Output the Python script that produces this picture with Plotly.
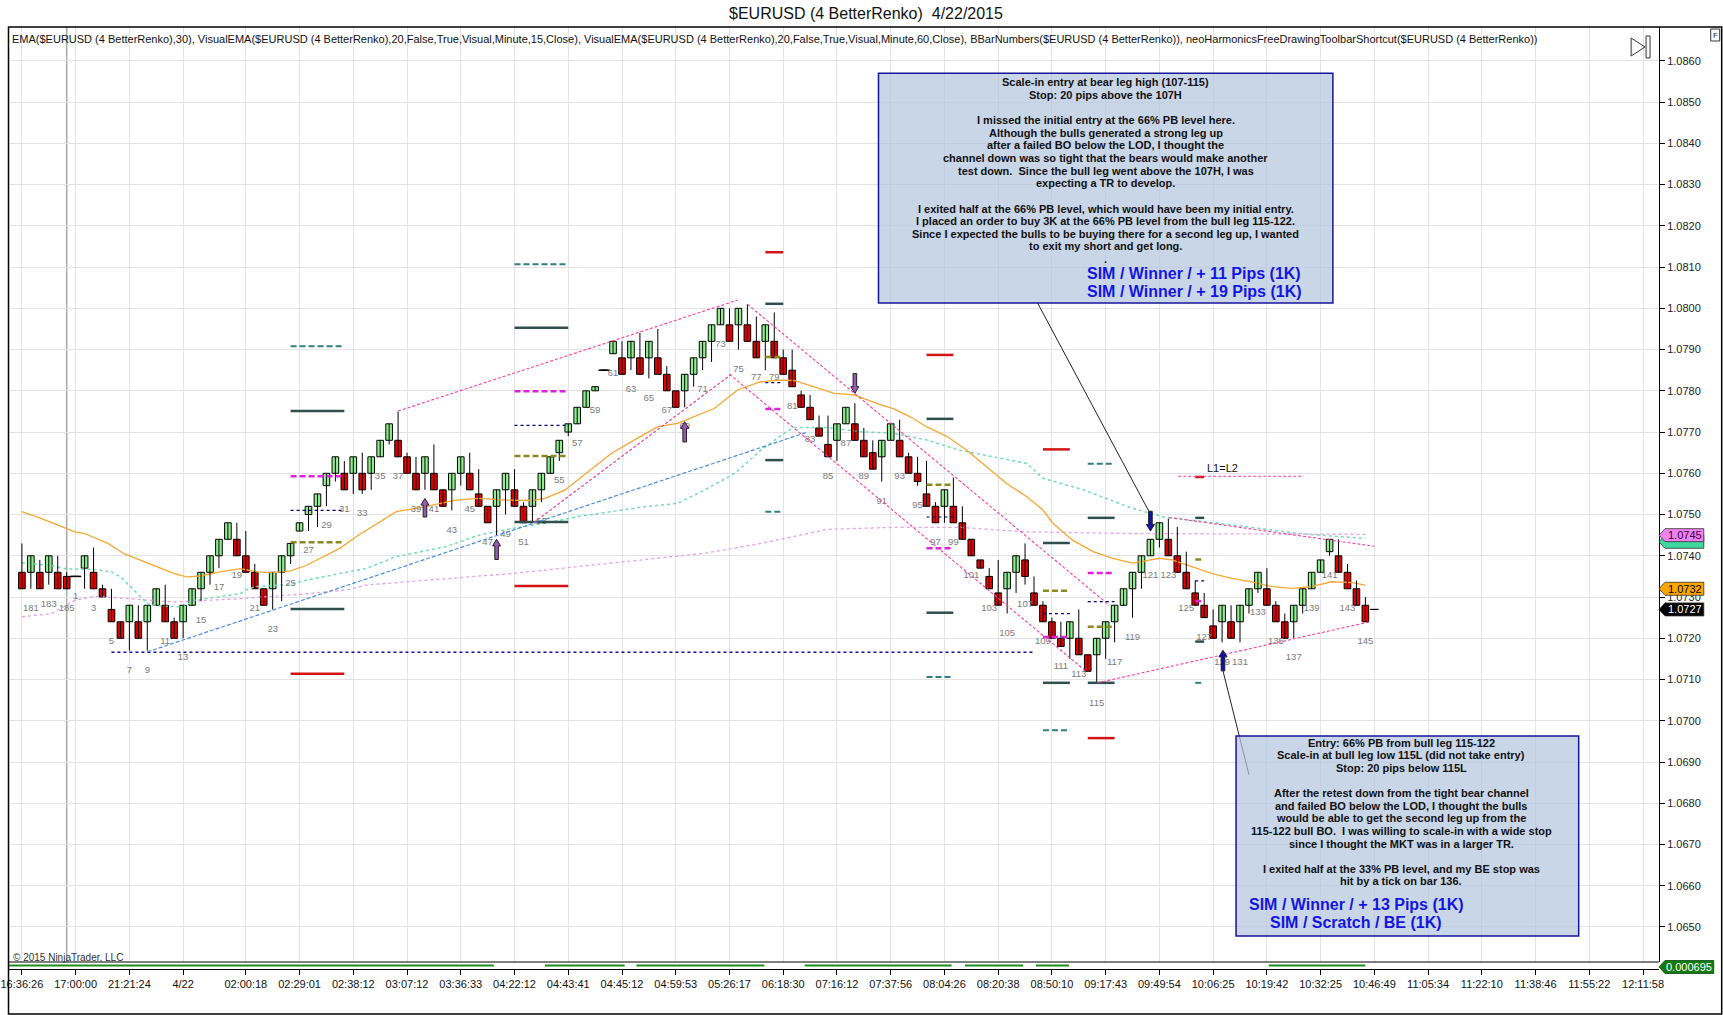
import plotly.graph_objects as go

# ---- renko bars, slot 0..150 (bars 180-185 of the prior session, then 1..145)
opens = [1.0736, 1.0736, 1.0736, 1.0736, 1.0736, 1.0735, 1.0735, 1.0737, 1.0736, 1.0732,
         1.0727, 1.0724, 1.0724, 1.0724, 1.0724, 1.0728, 1.0728, 1.0724, 1.0724, 1.0728,
         1.0732, 1.0736, 1.0740, 1.0744, 1.0744, 1.0740, 1.0736, 1.0732, 1.0732, 1.0736,
         1.0740, 1.0746, 1.0750, 1.0752, 1.0757, 1.0760, 1.0760, 1.0760, 1.0760, 1.0760,
         1.0764, 1.0768, 1.0768, 1.0764, 1.0760, 1.0760, 1.0760, 1.0756, 1.0756, 1.0760,
         1.0760, 1.0755, 1.0752, 1.0752, 1.0756, 1.0756, 1.0752, 1.0752, 1.0756, 1.0760,
         1.0765, 1.0770, 1.0772, 1.0776, 1.0780, 1.0785, 1.0789, 1.0788, 1.0788, 1.0788,
         1.0788, 1.0788, 1.0784, 1.0780, 1.0780, 1.0784, 1.0788, 1.0792, 1.0796, 1.0796,
         1.0796, 1.0796, 1.0792, 1.0792, 1.0792, 1.0788, 1.0785, 1.0779, 1.0776, 1.0771,
         1.0767, 1.0768, 1.0772, 1.0772, 1.0768, 1.0765, 1.0764, 1.0768, 1.0768, 1.0764,
         1.0760, 1.0755, 1.0752, 1.0752, 1.0752, 1.0748, 1.0744, 1.0739, 1.0735, 1.0731,
         1.0732, 1.0736, 1.0739, 1.0731, 1.0728, 1.0724, 1.0720, 1.0720, 1.0720, 1.0716,
         1.0716, 1.0720, 1.0724, 1.0728, 1.0732, 1.0736, 1.0740, 1.0744, 1.0744, 1.0740,
         1.0736, 1.0731, 1.0728, 1.0723, 1.0724, 1.0724, 1.0724, 1.0728, 1.0732, 1.0732,
         1.0728, 1.0724, 1.0724, 1.0728, 1.0732, 1.0736, 1.0741, 1.0740, 1.0736, 1.0732,
         1.0728]
highs = [1.0743, 1.0740, 1.0739, 1.0740, 1.0740, 1.0736, 1.0735, 1.0740, 1.0742, 1.0733,
         1.0732, 1.0724, 1.0728, 1.0728, 1.0728, 1.0732, 1.0733, 1.0725, 1.0728, 1.0732,
         1.0736, 1.0740, 1.0744, 1.0748, 1.0748, 1.0746, 1.0738, 1.0732, 1.0736, 1.0740,
         1.0743, 1.0748, 1.0752, 1.0755, 1.0760, 1.0764, 1.0763, 1.0764, 1.0765, 1.0764,
         1.0768, 1.0772, 1.0775, 1.0765, 1.0764, 1.0764, 1.0767, 1.0756, 1.0760, 1.0764,
         1.0765, 1.0761, 1.0752, 1.0756, 1.0760, 1.0761, 1.0753, 1.0756, 1.0760, 1.0764,
         1.0768, 1.0772, 1.0776, 1.0780, 1.0781, 1.0785, 1.0792, 1.0792, 1.0792, 1.0794,
         1.0792, 1.0795, 1.0786, 1.0780, 1.0784, 1.0788, 1.0792, 1.0796, 1.0800, 1.0800,
         1.0800, 1.0801, 1.0798, 1.0796, 1.0799, 1.0790, 1.0790, 1.0780, 1.0779, 1.0774,
         1.0774, 1.0772, 1.0776, 1.0777, 1.0771, 1.0768, 1.0768, 1.0772, 1.0773, 1.0765,
         1.0764, 1.0763, 1.0753, 1.0756, 1.0759, 1.0752, 1.0744, 1.0739, 1.0737, 1.0739,
         1.0736, 1.0740, 1.0743, 1.0735, 1.0729, 1.0725, 1.0724, 1.0724, 1.0727, 1.0716,
         1.0720, 1.0724, 1.0728, 1.0732, 1.0736, 1.0740, 1.0744, 1.0748, 1.0749, 1.0747,
         1.0741, 1.0734, 1.0731, 1.0727, 1.0728, 1.0728, 1.0728, 1.0732, 1.0736, 1.0737,
         1.0729, 1.0726, 1.0728, 1.0732, 1.0736, 1.0739, 1.0744, 1.0744, 1.0738, 1.0734,
         1.0730]
lows = [1.0732, 1.0732, 1.0732, 1.0733, 1.0732, 1.0732, 1.0735, 1.0732, 1.0732, 1.0730,
        1.0724, 1.0720, 1.0717, 1.0720, 1.0717, 1.0728, 1.0724, 1.0720, 1.0720, 1.0728,
        1.0729, 1.0733, 1.0737, 1.0744, 1.0740, 1.0736, 1.0732, 1.0728, 1.0727, 1.0729,
        1.0738, 1.0746, 1.0746, 1.0747, 1.0752, 1.0758, 1.0756, 1.0755, 1.0755, 1.0756,
        1.0764, 1.0767, 1.0764, 1.0760, 1.0756, 1.0756, 1.0756, 1.0752, 1.0751, 1.0757,
        1.0756, 1.0752, 1.0748, 1.0745, 1.0750, 1.0752, 1.0748, 1.0748, 1.0753, 1.0760,
        1.0763, 1.0769, 1.0772, 1.0776, 1.0780, 1.0785, 1.0789, 1.0784, 1.0785, 1.0784,
        1.0783, 1.0784, 1.0780, 1.0776, 1.0776, 1.0781, 1.0785, 1.0787, 1.0796, 1.0792,
        1.0790, 1.0792, 1.0788, 1.0785, 1.0788, 1.0784, 1.0781, 1.0776, 1.0773, 1.0769,
        1.0764, 1.0763, 1.0772, 1.0768, 1.0764, 1.0761, 1.0758, 1.0768, 1.0764, 1.0760,
        1.0757, 1.0752, 1.0748, 1.0748, 1.0748, 1.0744, 1.0740, 1.0737, 1.0732, 1.0728,
        1.0726, 1.0731, 1.0733, 1.0728, 1.0724, 1.0720, 1.0718, 1.0715, 1.0716, 1.0712,
        1.0709, 1.0715, 1.0719, 1.0728, 1.0725, 1.0732, 1.0740, 1.0742, 1.0740, 1.0736,
        1.0732, 1.0728, 1.0725, 1.0720, 1.0719, 1.0720, 1.0719, 1.0726, 1.0731, 1.0728,
        1.0724, 1.0720, 1.0720, 1.0726, 1.0732, 1.0736, 1.0740, 1.0736, 1.0732, 1.0728,
        1.0724]
closes = [1.0732, 1.0740, 1.0732, 1.0740, 1.0732, 1.0732, 1.0735, 1.0740, 1.0732, 1.0730,
          1.0724, 1.0720, 1.0728, 1.0720, 1.0728, 1.0732, 1.0724, 1.0720, 1.0728, 1.0732,
          1.0736, 1.0740, 1.0744, 1.0748, 1.0740, 1.0736, 1.0732, 1.0728, 1.0736, 1.0740,
          1.0743, 1.0748, 1.0752, 1.0755, 1.0760, 1.0764, 1.0756, 1.0764, 1.0756, 1.0764,
          1.0768, 1.0772, 1.0764, 1.0760, 1.0756, 1.0764, 1.0756, 1.0752, 1.0760, 1.0764,
          1.0756, 1.0752, 1.0748, 1.0756, 1.0760, 1.0752, 1.0748, 1.0756, 1.0760, 1.0764,
          1.0768, 1.0772, 1.0776, 1.0780, 1.0781, 1.0785, 1.0792, 1.0784, 1.0792, 1.0784,
          1.0792, 1.0784, 1.0780, 1.0776, 1.0784, 1.0788, 1.0792, 1.0796, 1.0800, 1.0792,
          1.0800, 1.0792, 1.0788, 1.0796, 1.0788, 1.0784, 1.0781, 1.0776, 1.0773, 1.0769,
          1.0764, 1.0772, 1.0776, 1.0768, 1.0764, 1.0761, 1.0768, 1.0772, 1.0764, 1.0760,
          1.0758, 1.0752, 1.0748, 1.0756, 1.0748, 1.0744, 1.0740, 1.0737, 1.0732, 1.0728,
          1.0736, 1.0740, 1.0735, 1.0728, 1.0724, 1.0720, 1.0718, 1.0724, 1.0716, 1.0712,
          1.0720, 1.0724, 1.0728, 1.0732, 1.0736, 1.0740, 1.0744, 1.0748, 1.0740, 1.0736,
          1.0732, 1.0728, 1.0725, 1.0720, 1.0728, 1.0720, 1.0728, 1.0732, 1.0736, 1.0728,
          1.0724, 1.0720, 1.0728, 1.0732, 1.0736, 1.0739, 1.0744, 1.0736, 1.0732, 1.0728,
          1.0724]
bar_numbers = list(range(180, 186)) + list(range(1, 146))

# ---- indicators, read at sample slots
ema30_x = [0.0, 2.2, 5.9, 7.0, 9.6, 11.4, 13.3, 15.1, 17.0, 18.4, 19.9, 22.1, 24.4, 26.2,
           28.1, 29.9, 31.8, 33.6, 35.5, 37.3, 41.8, 45.1, 48.4, 51.0, 54.0, 56.9, 58.4,
           60.6, 62.8, 65.8, 68.4, 71.0, 73.2, 75.1, 77.3, 79.9, 82.5, 84.7, 86.2, 88.1,
           90.7, 92.9, 95.9, 97.3, 99.2, 101.0, 103.3, 105.5, 107.7, 109.9, 112.2, 114.0,
           115.1, 117.3, 119.6, 121.8, 124.0, 127.0, 128.4, 130.7, 132.9, 135.1, 137.3,
           139.6, 141.8, 144.0, 146.2, 148.5, 150.0]
ema30_y = [1.07507, 1.07490, 1.07458, 1.07454, 1.07430, 1.07405, 1.07389, 1.07373, 1.07357,
           1.07349, 1.07351, 1.07361, 1.07369, 1.07361, 1.07359, 1.07363, 1.07377, 1.07397,
           1.07418, 1.07446, 1.07507, 1.07519, 1.07535, 1.07539, 1.07535, 1.07534, 1.07539,
           1.07559, 1.07596, 1.07648, 1.07681, 1.07713, 1.07721, 1.07737, 1.07757, 1.07802,
           1.07822, 1.07826, 1.07825, 1.07812, 1.07794, 1.07790, 1.07766, 1.07757, 1.07737,
           1.07713, 1.07689, 1.07656, 1.07616, 1.07576, 1.07543, 1.07511, 1.07479, 1.07438,
           1.07410, 1.07394, 1.07382, 1.07394, 1.07390, 1.07374, 1.07357, 1.07345, 1.07337,
           1.07325, 1.07321, 1.07325, 1.07337, 1.07335, 1.07329]
ema15m_x = [0.0, 3.0, 5.0, 8.1, 10.0, 11.0, 12.5, 14.0, 15.5, 17.0, 18.0, 19.2, 21.4, 24.4,
            25.0, 26.0, 30.0, 31.8, 35.5, 38.4, 41.8, 47.3, 51.0, 54.7, 58.4, 62.1, 65.8,
            69.5, 73.2, 76.2, 79.6, 82.5, 85.1, 86.2, 89.9, 93.6, 97.3, 101.0, 104.7, 108.4,
            112.2, 114.0, 118.5, 124.0, 127.7, 135.1, 142.5, 150.0]
ema15m_y = [1.07383, 1.07377, 1.07368, 1.07367, 1.07361, 1.07349, 1.07317, 1.07284, 1.07278,
            1.07276, 1.07276, 1.07292, 1.07299, 1.07308, 1.07317, 1.07325, 1.07331, 1.07341,
            1.07357, 1.07369, 1.07398, 1.07422, 1.07450, 1.07466, 1.07479, 1.07495, 1.07507,
            1.07519, 1.07527, 1.07559, 1.07600, 1.07656, 1.07697, 1.07711, 1.07711, 1.07701,
            1.07697, 1.07681, 1.07656, 1.07640, 1.07624, 1.07588, 1.07560, 1.07515, 1.07493,
            1.07475, 1.07454, 1.07442]
ema60m_x = [0.0, 3.3, 5.9, 8.1, 17.0, 24.4, 31.8, 36.2, 38.4, 54.7, 76.2, 82.5, 89.9, 97.3,
            104.7, 112.2, 124.0, 135.1, 150.0]
ema60m_y = [1.07252, 1.07260, 1.07292, 1.07302, 1.07288, 1.07296, 1.07308, 1.07317, 1.07329,
            1.07357, 1.07406, 1.07430, 1.07464, 1.07469, 1.07469, 1.07458, 1.07454, 1.07453,
            1.07452]

# ---- BBar level groups: slot span and (kind, price) per level
group_x0 = [30, 55, 83, 101, 114, 119, 131]
group_x1 = [36, 61, 85, 104, 117, 122, 132]
group_levels = [
    [("teal", 1.07908), ("slate", 1.07751), ("magenta", 1.07593), ("dotted", 1.07510),
     ("olive", 1.07433), ("slate", 1.07271), ("red", 1.07114)],
    [("teal", 1.08107), ("slate", 1.07953), ("magenta", 1.07799), ("dotted", 1.07716),
     ("olive", 1.07642), ("slate", 1.07482), ("red", 1.07327)],
    [("red", 1.08136), ("slate", 1.08011), ("olive", 1.07882), ("dotted", 1.07820),
     ("magenta", 1.07756), ("slate", 1.07632), ("teal", 1.07507)],
    [("red", 1.07887), ("slate", 1.07732), ("olive", 1.07572), ("dotted", 1.07494),
     ("magenta", 1.07418), ("slate", 1.07262), ("teal", 1.07106)],
    [("red", 1.07658), ("slate", 1.07431), ("olive", 1.07315), ("dotted", 1.07260),
     ("magenta", 1.07203), ("slate", 1.07092), ("teal", 1.06977)],
    [("teal", 1.07623), ("slate", 1.07492), ("magenta", 1.07358), ("dotted", 1.07289),
     ("olive", 1.07228), ("slate", 1.07092), ("red", 1.06958)],
    [("red", 1.07591), ("slate", 1.07492), ("olive", 1.07391), ("dotted", 1.07339),
     ("magenta", 1.07290), ("slate", 1.07192), ("teal", 1.07092)],
]

# ---- hand-drawn lines
trend_x0 = [10, 14, 42, 57.1, 81, 79, 120.1, 128.1, 129.1, 113.4, 134.1]
trend_y0 = [1.07166, 1.07167, 1.07751, 1.07480, 1.08010, 1.07840, 1.07092, 1.07493, 1.07593, 1.08013, 1.07121]
trend_x1 = [113, 87.7, 79.9, 79.2, 121.4, 118.8, 150.5, 151, 143.1, 125.85, 137.0]
trend_y1 = [1.07166, 1.07700, 1.08020, 1.07840, 1.07280, 1.07120, 1.07240, 1.07423, 1.07593, 1.07507, 1.06869]
trend_kind = ["navy", "blue", "pink", "pink", "pink", "pink", "pink", "pink", "pink", "call", "call"]

# ---- signal arrows
arrow_x = [45, 53, 74, 93, 126, 134.1]
arrow_tip = [1.07539, 1.07440, 1.07725, 1.07794, 1.07460, 1.07171]
arrow_tail = [1.07494, 1.07391, 1.07676, 1.07842, 1.07508, 1.07121]
arrow_color = ["#9B59B6", "#9B59B6", "#9B59B6", "#9B59B6", "#1010B0", "#1010B0"]

# ---- lower indicator panel segments
osc_x0 = [-1.5, 58.4, 68.6, 87.4, 105.3, 113.2, 139.2]
osc_x1 = [52.7, 67.3, 82.9, 103.8, 111.8, 116.9, 150.0]

# ---- x axis labels
tick_slots = [0, 6, 12, 18, 25, 31, 37, 43, 49, 55, 61, 67, 73, 79, 85, 91, 97, 103, 109,
              115, 121, 127, 133, 139, 145, 151, 157, 163, 169, 175, 181]
tick_text = ["16:36:26", "17:00:00", "21:21:24", "4/22", "02:00:18", "02:29:01", "02:38:12",
             "03:07:12", "03:36:33", "04:22:12", "04:43:41", "04:45:12", "04:59:53", "05:26:17",
             "06:18:30", "07:16:12", "07:37:56", "08:04:26", "08:20:38", "08:50:10", "09:17:43",
             "09:49:54", "10:06:25", "10:19:42", "10:32:25", "10:46:49", "11:05:34", "11:22:10",
             "11:38:46", "11:55:22", "12:11:58"]

# ---- right edge price tags
tag_values = [1.0744, 1.0745, 1.0732, 1.0727]
tag_text = ["", "1.0745", "1.0732", "1.0727"]
tag_fill = ["#3DD9A0", "#EE82EE", "#FFA500", "#000000"]
tag_font = ["black", "#400040", "black", "white"]

upper_note = [
    "Scale-in entry at bear leg high (107-115)",
    "Stop: 20 pips above the 107H",
    "",
    "I missed the initial entry at the 66% PB level here.",
    "Although the bulls generated a strong leg up",
    "after a failed BO below the LOD, I thought the",
    "channel down was so tight that the bears would make another",
    "test down.\u00a0 Since the bull leg went above the 107H, I was",
    "expecting a TR to develop.",
    "",
    "I exited half at the 66% PB level, which would have been my initial entry.",
    "I placed an order to buy 3K at the 66% PB level from the bull leg 115-122.",
    "Since I expected the bulls to be buying there for a second leg up, I wanted",
    "to exit my short and get long.",
    ".",
]
upper_result = ["SIM / Winner / + 11 Pips (1K)", "SIM / Winner / + 19 Pips (1K)"]
lower_note = [
    "Entry: 66% PB from bull leg 115-122",
    "Scale-in at bull leg low 115L (did not take entry)",
    "Stop: 20 pips below 115L",
    "",
    "After the retest down from the tight bear channel",
    "and failed BO below the LOD, I thought the bulls",
    "would be able to get the second leg up from the",
    "115-122 bull BO.\u00a0 I was willing to scale-in with a wide stop",
    "since I thought the MKT was in a larger TR.",
    "",
    "I exited half at the 33% PB level, and my BE stop was",
    "hit by a tick on bar 136.",
]
lower_result = ["SIM / Winner / + 13 Pips (1K)", "SIM / Scratch / BE (1K)"]

# plot area in pixels
PL, PR, PT, PB = 1, 1659, 27, 969
W, H = 1723, 1015


def px_x(px):
    return (px - PL) / (PR - PL)


def px_y(py):
    return (PB - py) / (PB - PT)


FONT = "Liberation Sans, Arial, sans-serif"
level_style = {
    "slate": dict(color="#2F4F4F", width=2.5),
    "red": dict(color="#D41414", width=2.5),
    "teal": dict(color="#2E8080", width=2, dash="6px,3px"),
    "magenta": dict(color="#E020E0", width=2.5, dash="6px,3px"),
    "olive": dict(color="#8A8A20", width=2.5, dash="6px,3px"),
    "dotted": dict(color="#000070", width=1.2, dash="dot"),
}
trend_style = {
    "navy": dict(color="#1010A0", width=1.5, dash="dot"),
    "blue": dict(color="#4A8FE0", width=1.2, dash="4px,2px"),
    "pink": dict(color="#FF3C9E", width=1.1, dash="3px,2px"),
    "call": dict(color="#222222", width=1),
}


def label(x, y, text, size, color, xref="paper", yref="paper", xanchor="center", bold=False):
    return dict(xref=xref, yref=yref, x=x, y=y, text=f"<b>{text}</b>" if bold else text,
                showarrow=False, xanchor=xanchor, yanchor="middle",
                font=dict(family=FONT, size=size, color=color))


fig = go.Figure()

# indicator lines (drawn under the bars)
fig.add_trace(go.Scatter(x=ema60m_x, y=ema60m_y, mode="lines",
                         line=dict(color="#E6A0E6", width=1.3, dash="dot"), hoverinfo="skip"))
fig.add_trace(go.Scatter(x=ema15m_x, y=ema15m_y, mode="lines",
                         line=dict(color="#70DDB0", width=1.5, dash="dot"), hoverinfo="skip"))
fig.add_trace(go.Scatter(x=ema30_x, y=ema30_y, mode="lines",
                         line=dict(color="#F5A733", width=1.3), hoverinfo="skip"))

# wicks
slots = list(range(len(opens)))
wx, wy = [], []
for k in slots:
    wx += [k, k, None]
    wy += [lows[k], highs[k], None]
fig.add_trace(go.Scatter(x=wx, y=wy, mode="lines", line=dict(color="black", width=1),
                         hoverinfo="skip"))

# bodies
body_base = [min(o, c) for o, c in zip(opens, closes)]
body_h = [abs(c - o) for o, c in zip(opens, closes)]
body_col = ["#90EE90" if c > o else "#E00000" for o, c in zip(opens, closes)]
fig.add_trace(go.Bar(x=slots, y=body_h, base=body_base, width=0.74,
                     marker=dict(color=body_col, line=dict(color="black", width=1)),
                     hoverinfo="skip"))

# doji bars
doji = [k for k in slots if opens[k] == closes[k]]
fig.add_trace(go.Scatter(x=doji, y=[closes[k] for k in doji], mode="markers",
                         marker=dict(symbol="line-ew", size=8,
                                     line=dict(color="black", width=1.5)),
                         hoverinfo="skip"))

# current price tick
fig.add_trace(go.Scatter(x=[len(opens)], y=[tag_values[-1]], mode="markers",
                         marker=dict(symbol="line-ew", size=6,
                                     line=dict(color="black", width=1.2)),
                         hoverinfo="skip"))

# bar numbers (odd bars, under the low)
odd = [k for k in slots if bar_numbers[k] % 2 == 1]
fig.add_trace(go.Scatter(x=odd, y=[lows[k] - 0.00048 for k in odd], mode="text",
                         text=[str(bar_numbers[k]) for k in odd],
                         textfont=dict(family=FONT, size=9.5, color="#7A7A7A"),
                         hoverinfo="skip"))

shapes = []
# level segments
for x0, x1, levels in zip(group_x0, group_x1, group_levels):
    for kind, price in levels:
        shapes.append(dict(type="line", xref="x", yref="y", x0=x0, x1=x1, y0=price, y1=price,
                           line=level_style[kind]))

# trend / callout lines
for x0, y0, x1, y1, kind in zip(trend_x0, trend_y0, trend_x1, trend_y1, trend_kind):
    shapes.append(dict(type="line", xref="x", yref="y", x0=x0, y0=y0, x1=x1, y1=y1,
                       line=trend_style[kind]))

# block arrows
for ax, tip, tail, col in zip(arrow_x, arrow_tip, arrow_tail, arrow_color):
    d = 1 if tip > tail else -1
    neck = tip - d * 0.00016
    sw, hw = 0.2, 0.45
    path = (f"M {ax - sw},{tail} L {ax - sw},{neck} L {ax - hw},{neck} L {ax},{tip} "
            f"L {ax + hw},{neck} L {ax + sw},{neck} L {ax + sw},{tail} Z")
    shapes.append(dict(type="path", xref="x", yref="y", path=path, fillcolor=col,
                       line=dict(color="#202020", width=1)))

# session break
shapes.append(dict(type="line", xref="x", yref="paper", x0=5, x1=5, y0=px_y(962), y1=1,
                   line=dict(color="#A8A8A8", width=1.5), layer="below"))

# note boxes
box_fill = "rgba(176,196,222,0.7)"
box_line = dict(color="#15159A", width=1.5)
shapes.append(dict(type="rect", xref="paper", yref="paper", x0=px_x(874.7), x1=px_x(1331.3),
                   y0=px_y(303), y1=px_y(73.3), fillcolor=box_fill, line=box_line))
shapes.append(dict(type="rect", xref="paper", yref="paper", x0=px_x(1234), x1=px_x(1578.3),
                   y0=px_y(936), y1=px_y(736), fillcolor=box_fill, line=box_line))

# lower indicator panel
shapes.append(dict(type="line", xref="paper", yref="paper", x0=0, x1=1, y0=px_y(962),
                   y1=px_y(962), line=dict(color="black", width=1.2)))
for x0, x1 in zip(osc_x0, osc_x1):
    shapes.append(dict(type="line", xref="x", yref="paper", x0=x0, x1=x1, y0=px_y(965.5),
                       y1=px_y(965.5), line=dict(color="#1E8C1E", width=2)))

# outer frame
shapes.append(dict(type="rect", xref="paper", yref="paper", x0=px_x(0.5), x1=px_x(1722),
                   y0=px_y(1014), y1=px_y(27), line=dict(color="black", width=1.5)))

# toolbar glyphs top right
shapes.append(dict(type="path", xref="paper", yref="paper",
                   path=f"M {px_x(1631)},{px_y(38)} L {px_x(1645)},{px_y(47)} L {px_x(1631)},{px_y(56)} Z",
                   line=dict(color="#333333", width=1)))
shapes.append(dict(type="rect", xref="paper", yref="paper", x0=px_x(1646), x1=px_x(1650),
                   y0=px_y(58), y1=px_y(36), line=dict(color="#333333", width=1)))
shapes.append(dict(type="rect", xref="paper", yref="paper", x0=px_x(1711), x1=px_x(1720),
                   y0=px_y(41), y1=px_y(29), line=dict(color="#333333", width=1)))

# price tags at the right axis
hh = 6.5 / 41230
for i, (val, fill) in enumerate(zip(tag_values, tag_fill)):
    off = -2.5 / 41230 if i == 0 else 0
    yc = val + off
    path = (f"M {px_x(1659)},{yc} L {px_x(1665)},{yc + hh} L {px_x(1704)},{yc + hh} "
            f"L {px_x(1704)},{yc - hh} L {px_x(1665)},{yc - hh} Z")
    shapes.append(dict(type="path", xref="paper", yref="y", path=path, fillcolor=fill,
                       line=dict(color="#303030", width=0.8)))
gy = px_y(967)
gh = 6.5 / (PB - PT)
shapes.append(dict(type="path", xref="paper", yref="paper",
                   path=(f"M {px_x(1659)},{gy} L {px_x(1665)},{gy + gh} L {px_x(1714)},{gy + gh} "
                         f"L {px_x(1714)},{gy - gh} L {px_x(1665)},{gy - gh} Z"),
                   fillcolor="#137A13", line=dict(color="#0A4A0A", width=0.8)))

annotations = []
for val, txt, col in zip(tag_values, tag_text, tag_font):
    if txt:
        annotations.append(label(px_x(1685), val, txt, 11, col, yref="y"))
annotations.append(label(px_x(1689), gy, "0.000695", 11, "white"))
annotations.append(label(px_x(1715.5), px_y(35), "F", 8, "#222222"))

# title and indicator caption
annotations.append(label(px_x(862), px_y(13), "$EURUSD (4 BetterRenko)\u00a0 4/22/2015",
                         16, "#111111"))
annotations.append(label(
    px_x(2), px_y(39),
    "EMA($EURUSD (4 BetterRenko),30), VisualEMA($EURUSD (4 BetterRenko),20,False,True,"
    "Visual,Minute,15,Close), VisualEMA($EURUSD (4 BetterRenko),20,False,True,Visual,"
    "Minute,60,Close), BBarNumbers($EURUSD (4 BetterRenko)), "
    "neoHarmonicsFreeDrawingToolbarShortcut($EURUSD (4 BetterRenko))",
    11, "#111111", xanchor="left"))
annotations.append(label(px_x(3), px_y(957), "\u00a9 2015 NinjaTrader, LLC", 10, "#333333",
                         xanchor="left"))
annotations.append(label(134, 1.07612, "L1=L2", 11, "#111111", xref="x", yref="y"))

# note text
for i, line in enumerate(upper_note):
    if line:
        annotations.append(label(px_x(1103), px_y(82 + i * 12.65), line, 11, "#111111", bold=True))
for i, line in enumerate(upper_result):
    annotations.append(label(px_x(1192), px_y(273 + i * 18), line, 16, "#1515E0", bold=True))
for i, line in enumerate(lower_note):
    if line:
        annotations.append(label(px_x(1400), px_y(742.7 + i * 12.6), line, 11, "#111111", bold=True))
for i, line in enumerate(lower_result):
    annotations.append(label(px_x(1355), px_y(904.3 + i * 17.7), line, 16, "#1515E0", bold=True))

fig.update_layout(
    width=W, height=H,
    margin=dict(l=PL, r=W - PR, t=PT, b=H - PB, pad=0),
    paper_bgcolor="white", plot_bgcolor="white",
    showlegend=False, hovermode=False,
    font=dict(family=FONT, size=11, color="#111111"),
    shapes=shapes, annotations=annotations,
    xaxis=dict(range=[-1.44, 182.78], tickmode="array", tickvals=tick_slots, ticktext=tick_text,
               showgrid=True, gridcolor="#E3E3E3", gridwidth=1, zeroline=False,
               ticks="outside", ticklen=5, tickcolor="black", showline=True, linecolor="black",
               anchor="free", position=0, ticklabeloverflow="allow",
               tickfont=dict(family=FONT, size=11, color="#111111")),
    yaxis=dict(domain=[px_y(962), 1], range=[1.064151, 1.086821], side="right",
               tick0=1.065, dtick=0.001, tickformat=".4f", showgrid=True, gridcolor="#E3E3E3",
               zeroline=False, ticks="outside", ticklen=5, tickcolor="black", showline=True,
               linecolor="black", tickfont=dict(family=FONT, size=11, color="#222222")),
)

# the page's default body margin would shift the chart; remove it
fig.write_html("out.html", config={"displayModeBar": False},
               post_script="document.body.style.margin='0px';"
                           "document.body.style.overflow='hidden';")
